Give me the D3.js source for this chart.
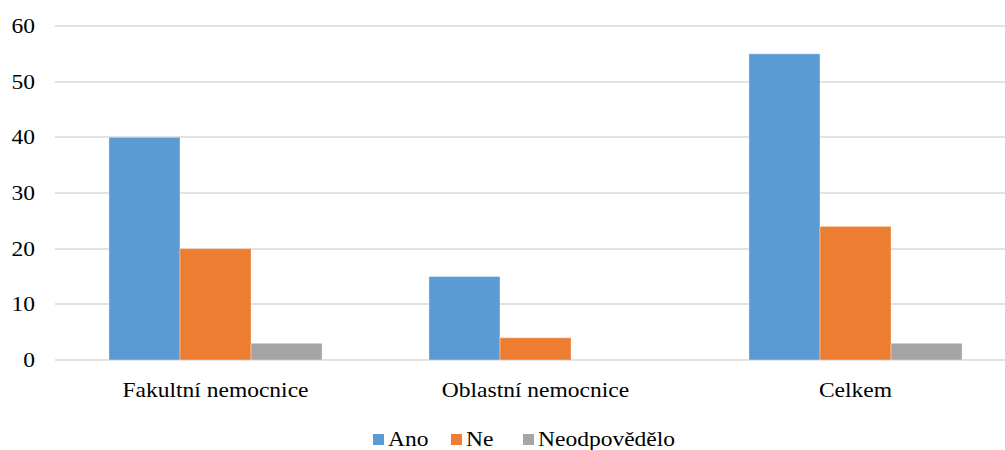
<!DOCTYPE html>
<html>
<head>
<meta charset="utf-8">
<script src="https://cdn.jsdelivr.net/npm/d3@7"></script>
<style>
  html, body { margin: 0; padding: 0; background: #fff; }
  svg { display: block; }
</style>
</head>
<body>
<svg id="chart" width="1005" height="450"></svg>
<script>
// Categories and series
const categories = ["Fakultní nemocnice", "Oblastní nemocnice", "Celkem"];
const seriesNames = ["Ano", "Ne", "Neodpovědělo"];
const ano = [40, 15, 55];
const ne = [20, 4, 24];
const neodpovedelo = [3, 0, 3];
const yTicks = [0, 10, 20, 30, 40, 50, 60];
const colors = ["#5b9bd5", "#ed7d31", "#a5a5a5"];

const values = [ano, ne, neodpovedelo];
const rows = categories.map((c, i) => ({
  category: c,
  items: seriesNames.map((s, j) => ({ series: s, value: values[j][i], color: colors[j] }))
}));

const svg = d3.select("#chart");
const font = "Liberation Serif";
const fontSize = 21;
const stretch = 1.12; // text is drawn slightly wide

const plotLeft = 55, plotRight = 1005;
const y = d3.scaleLinear().domain([0, 60]).range([360, 26]);
const x0 = d3.scaleBand().domain(categories).range([55.5, 1015.5])
  .paddingInner(0.334).paddingOuter(0.167);
const x1 = d3.scaleBand().domain(seriesNames).range([0, x0.bandwidth()]).padding(0);

function label(sel) {
  return sel.style("font-family", font).style("font-size", fontSize + "px").attr("fill", "#000");
}

// Horizontal gridlines
svg.append("g")
  .selectAll("line")
  .data(yTicks)
  .join("line")
  .attr("x1", plotLeft).attr("x2", plotRight)
  .attr("y1", d => Math.round(y(d))).attr("y2", d => Math.round(y(d)))
  .attr("stroke", "#d9d9d9").attr("stroke-width", 1.5);

// Y axis labels
svg.append("g")
  .selectAll("text")
  .data(yTicks)
  .join("text")
  .attr("transform", d => `translate(35,${y(d) + 7}) scale(${stretch},1)`)
  .attr("text-anchor", "end")
  .call(label)
  .text(d => d);

// Bars
const groups = svg.append("g")
  .selectAll("g")
  .data(rows)
  .join("g")
  .attr("transform", d => `translate(${x0(d.category)},0)`);

groups.selectAll("rect")
  .data(d => d.items.filter(it => it.value > 0))
  .join("rect")
  .attr("x", d => x1(d.series))
  .attr("width", x1.bandwidth())
  .attr("y", d => y(d.value))
  .attr("height", d => y(0) - y(d.value))
  .attr("fill", d => d.color)
  .attr("stroke", "#ffffff").attr("stroke-opacity", 0.35).attr("stroke-width", 1);

// Category labels
svg.append("g")
  .selectAll("text")
  .data(categories)
  .join("text")
  .attr("transform", d => `translate(${x0(d) + x0.bandwidth() / 2},397) scale(${stretch},1)`)
  .attr("text-anchor", "middle")
  .call(label)
  .text(d => d);

// Legend
const legendX = [373, 451, 523];
const legend = svg.append("g")
  .selectAll("g")
  .data(seriesNames)
  .join("g")
  .attr("transform", (d, i) => `translate(${legendX[i]},0)`);
legend.append("rect")
  .attr("x", 0).attr("y", 434).attr("width", 11).attr("height", 11)
  .attr("fill", (d, i) => colors[i]);
legend.append("text")
  .attr("transform", `translate(15,445.5) scale(${stretch},1)`)
  .call(label)
  .text(d => d);
</script>
</body>
</html>
